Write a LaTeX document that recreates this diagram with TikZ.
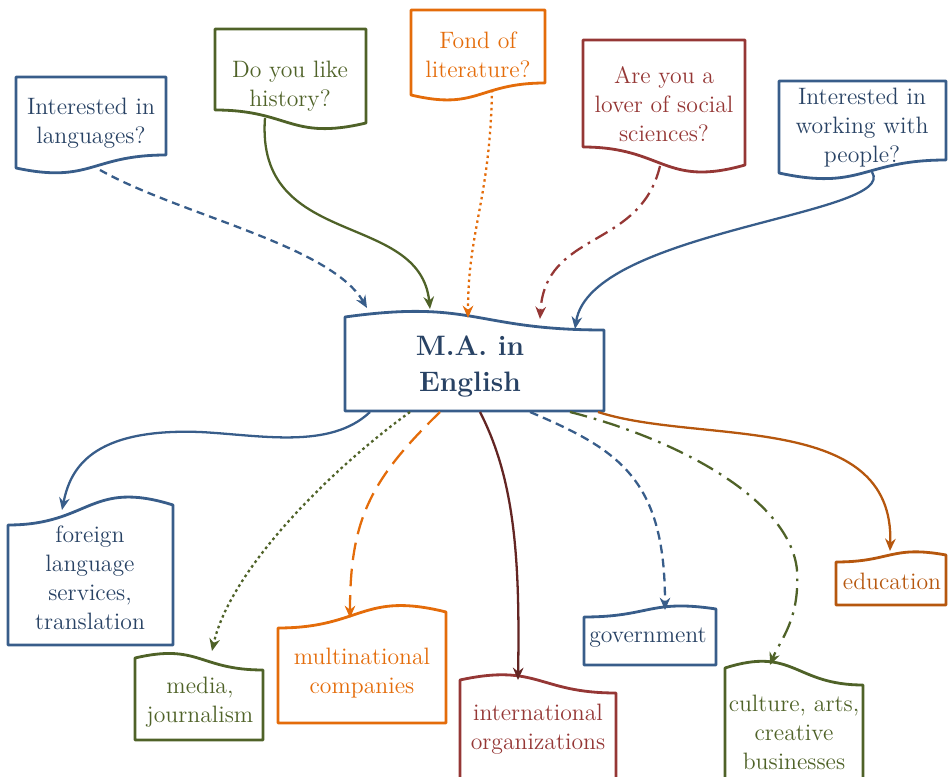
\documentclass[tikz,border=0pt]{standalone}
\usepackage{xcolor}
\usetikzlibrary{arrows.meta}

\definecolor{mablue}{RGB}{56,93,138}
\definecolor{matext}{RGB}{40,66,100}
\definecolor{magreen}{RGB}{79,98,40}
\definecolor{maorange}{RGB}{228,108,10}
\definecolor{mared}{RGB}{149,55,53}
\definecolor{madarkred}{RGB}{99,37,35}
\definecolor{mabrown}{RGB}{182,87,14}

\tikzset{
  docbox/.style={line width=1.6pt, line join=round},
  boxtext/.style={align=center, font=\fontsize{13.5}{16.5}\selectfont},
  link/.style={line width=1.3pt, -{Stealth[length=7pt,width=6pt]}}
}

\begin{document}
\begin{tikzpicture}[x=0.02cm, y=-0.02cm]
    \useasboundingbox (0,0) rectangle (948,777);

    % Question boxes on top (wavy bottom edge)
    \draw[docbox, draw=mablue] (16,77) -- (166,77) -- (166,155) .. controls (91,155) and (91,184) .. (16,168) -- cycle;
    \draw[docbox, draw=magreen] (215,29) -- (366,29) -- (366,123) .. controls (290,141) and (290,110) .. (215,110) -- cycle;
    \draw[docbox, draw=maorange] (411,10) -- (545,10) -- (545,83) .. controls (478,83) and (478,111) .. (411,95) -- cycle;
    \draw[docbox, draw=mared] (583,40) -- (745,40) -- (745,165) .. controls (664,188) and (664,147) .. (583,147) -- cycle;
    \draw[docbox, draw=mablue] (779,81) -- (946,81) -- (946,160) .. controls (862,160) and (862,191) .. (779,173) -- cycle;

    \node[boxtext, text=matext] (lang) at (91,123) {Interested in\\languages?};
    \node[boxtext, text=magreen] (hist) at (290,86) {Do you like\\history?};
    \node[boxtext, text=maorange] (lit) at (478,55) {Fond of\\literature?};
    \node[boxtext, text=mared] (soc) at (664,104) {Are you a\\lover of social\\sciences?};
    \node[boxtext, text=matext] (people) at (862,128) {Interested in\\working with\\people?};

    % Center box (wavy top edge)
    \draw[docbox, draw=mablue] (345,411) -- (604,411) -- (604,330) .. controls (474,330) and (474,299) .. (345,317) -- cycle;
    \node[align=center, text=matext, font=\fontsize{16}{20.5}\selectfont\bfseries] (ma) at (470,366) {M.A. in\\English};

    % Career boxes at the bottom (wavy top edge)
    \draw[docbox, draw=mablue] (8,645) -- (8,525) .. controls (90,525) and (90,479) .. (173,505) -- (173,645) -- cycle;
    \draw[docbox, draw=magreen] (135,740) -- (263,740) -- (263,670) .. controls (199,670) and (199,643) .. (135,658) -- cycle;
    \draw[docbox, draw=maorange] (278,723) -- (278,628) .. controls (362,628) and (362,591) .. (446,612) -- (446,723) -- cycle;
    \draw[docbox, draw=mared] (460,795) -- (616,795) -- (616,693) .. controls (538,693) and (538,663) .. (460,680) -- cycle;
    \draw[docbox, draw=mablue] (584,665) -- (584,617) .. controls (650,617) and (650,599) .. (716,609) -- (716,665) -- cycle;
    \draw[docbox, draw=magreen] (725,795) -- (725,668) .. controls (794,646) and (794,685) .. (863,685) -- (863,795) -- cycle;
    \draw[docbox, draw=mabrown] (836,605) -- (836,562) .. controls (891,562) and (891,545) .. (946,555) -- (946,605) -- cycle;

    \node[boxtext, text=matext] (foreign) at (90,578) {foreign\\language\\services,\\translation};
    \node[boxtext, text=magreen] (media) at (200,702) {media,\\journalism};
    \node[boxtext, text=maorange] (multi) at (362,673) {multinational\\companies};
    \node[boxtext, text=mared] (intl) at (538,729) {international\\organizations};
    \node[boxtext, text=matext] (gov) at (648,638) {government};
    \node[boxtext, text=magreen] (culture) at (794,732) {culture, arts,\\creative\\businesses};
    \node[boxtext, text=mabrown] (edu) at (892,581) {education};

    % Connector ends on the box edges
    \coordinate (lang-out) at (100,170);
    \coordinate (hist-out) at (265,118);
    \coordinate (lit-out) at (492,90);
    \coordinate (soc-out) at (660,166);
    \coordinate (people-out) at (872,172);
    \coordinate (ma-in1) at (367,308);
    \coordinate (ma-in2) at (430,309);
    \coordinate (ma-in3) at (468,318);
    \coordinate (ma-in4) at (540,319);
    \coordinate (ma-in5) at (575,329);
    \coordinate (ma-out1) at (370,412);
    \coordinate (ma-out2) at (410,412);
    \coordinate (ma-out3) at (440,412);
    \coordinate (ma-out4) at (480,412);
    \coordinate (ma-out5) at (530,412);
    \coordinate (ma-out6) at (570,412);
    \coordinate (ma-out7) at (598,412);
    \coordinate (foreign-in) at (62,510);
    \coordinate (media-in) at (212,651);
    \coordinate (multi-in) at (350,618);
    \coordinate (intl-in) at (518,680);
    \coordinate (gov-in) at (665,610);
    \coordinate (culture-in) at (770,665);
    \coordinate (edu-in) at (890,551);

    % Incoming connectors
    \draw[link, mablue, dash pattern=on 4.5pt off 3pt] (lang-out) .. controls (180,215) and (330,245) .. (ma-in1);
    \draw[link, magreen] (hist-out) .. controls (255,250) and (420,210) .. (ma-in2);
    \draw[link, maorange, dash pattern=on 1.4pt off 2pt] (lit-out) .. controls (490,200) and (468,230) .. (ma-in3);
    \draw[link, mared, dash pattern=on 8pt off 3.5pt on 1.5pt off 3.5pt] (soc-out) .. controls (640,250) and (545,230) .. (ma-in4);
    \draw[link, mablue] (people-out) .. controls (900,215) and (590,230) .. (ma-in5);

    % Outgoing connectors
    \draw[link, mablue] (ma-out1) .. controls (330,450) and (260,435) .. (200,432) .. controls (90,428) and (70,470) .. (foreign-in);
    \draw[link, magreen, dash pattern=on 1.5pt off 1.8pt] (ma-out2) .. controls (330,470) and (230,570) .. (media-in);
    \draw[link, maorange, dash pattern=on 10pt off 5pt] (ma-out3) .. controls (370,480) and (350,520) .. (multi-in);
    \draw[link, madarkred] (ma-out4) .. controls (515,480) and (520,560) .. (intl-in);
    \draw[link, mablue, dash pattern=on 5pt off 3pt] (ma-out5) .. controls (620,450) and (665,480) .. (gov-in);
    \draw[link, magreen, dash pattern=on 10pt off 4pt on 1.5pt off 4pt] (ma-out6) .. controls (680,440) and (790,500) .. (797,570) .. controls (800,620) and (780,640) .. (culture-in);
    \draw[link, mabrown] (ma-out7) .. controls (700,445) and (895,410) .. (edu-in);
\end{tikzpicture}
\end{document}
